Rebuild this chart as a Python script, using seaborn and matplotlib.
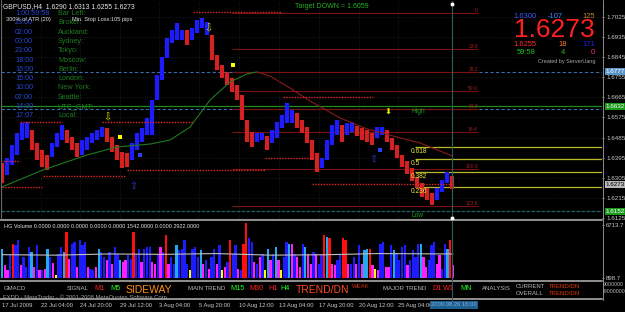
import matplotlib
matplotlib.use("Agg")
import matplotlib.pyplot as plt
import numpy as np
import seaborn as sns
from matplotlib.lines import Line2D
from matplotlib.transforms import blended_transform_factory

sns.set_style("dark")
plt.rcParams['font.family'] = ['Liberation Sans', 'DejaVu Sans']
plt.rcParams['axes.unicode_minus'] = False

W, H = 625, 312

# ---------------- data ----------------
header = "GBPUSD,H4  1.6290 1.6313 1.6255 1.6273"
bar_high = [1.6371, 1.6394, 1.6452, 1.6506, 1.6550, 1.6555, 1.6519, 1.6461, 1.6429, 1.6407,
            1.6461, 1.6506, 1.6541, 1.6519, 1.6488, 1.6461, 1.6474, 1.6488, 1.6506, 1.6519,
            1.6532, 1.6528, 1.6488, 1.6452, 1.6420, 1.6416, 1.6461, 1.6506, 1.6528, 1.6573,
            1.6653, 1.6765, 1.6846, 1.6931, 1.6967, 1.6998, 1.6967, 1.6967, 1.6976, 1.7012,
            1.7021, 1.7003, 1.6944, 1.6855, 1.6810, 1.6779, 1.6752, 1.6720, 1.6676, 1.6564,
            1.6510, 1.6506, 1.6506, 1.6492, 1.6519, 1.6555, 1.6586, 1.6640, 1.6609, 1.6595,
            1.6564, 1.6532, 1.6474, 1.6416, 1.6394, 1.6474, 1.6541, 1.6564, 1.6541, 1.6550,
            1.6555, 1.6537, 1.6528, 1.6519, 1.6506, 1.6532, 1.6532, 1.6519, 1.6483, 1.6452,
            1.6407, 1.6380, 1.6349, 1.6309, 1.6282, 1.6259, 1.6237, 1.6259, 1.6295, 1.6331,
            1.6313]
bar_low = [1.6282, 1.6317, 1.6362, 1.6407, 1.6474, 1.6483, 1.6429, 1.6385, 1.6353, 1.6340,
           1.6398, 1.6443, 1.6474, 1.6461, 1.6429, 1.6398, 1.6407, 1.6429, 1.6461, 1.6474,
           1.6488, 1.6465, 1.6420, 1.6385, 1.6349, 1.6353, 1.6385, 1.6429, 1.6465, 1.6497,
           1.6497, 1.6653, 1.6743, 1.6841, 1.6909, 1.6922, 1.6922, 1.6900, 1.6922, 1.6953,
           1.6976, 1.6944, 1.6832, 1.6788, 1.6752, 1.6720, 1.6689, 1.6653, 1.6564, 1.6465,
           1.6443, 1.6465, 1.6474, 1.6429, 1.6461, 1.6483, 1.6528, 1.6550, 1.6550, 1.6528,
           1.6506, 1.6461, 1.6385, 1.6331, 1.6349, 1.6385, 1.6452, 1.6497, 1.6465, 1.6497,
           1.6510, 1.6492, 1.6474, 1.6465, 1.6452, 1.6483, 1.6497, 1.6465, 1.6429, 1.6394,
           1.6353, 1.6322, 1.6291, 1.6259, 1.6219, 1.6205, 1.6183, 1.6205, 1.6241, 1.6282,
           1.6255]
bar_trend = ("r" "bbbbb" "rrrr" "bbb" "rrr" "bbbbb" "rrrrr" "bbbbbbbbbbb" "r" "bbbb"
             "rrrrrrrrr" "bb" "r" "bbbbb" "rrrrr" "bbbb" "r" "bb" "rrrr" "bb" "rrrrrrrrrr" "bbb" "r")

ma_up_idx = [0, 8.2, 17, 23, 25, 29.6, 33.6, 37.6, 41.6, 45.6, 49, 51]
ma_up_val = [1.6264, 1.6340, 1.6407, 1.6443, 1.6447, 1.6456, 1.6474, 1.6532, 1.6653, 1.6734, 1.6770, 1.6779]
ma_dn_idx = [51, 53.6, 57.6, 61.6, 67.6, 73, 78.2, 83.6, 90]
ma_dn_val = [1.6779, 1.6761, 1.6707, 1.6649, 1.6573, 1.6524, 1.6492, 1.6461, 1.6403]

sr_levels = [1.7047, 1.6555, 1.6555, 1.6380, 1.6313, 1.6264, 1.6340, 1.6394, 1.6667, 1.6277]
sr_start = [38.2, 3.6, 20, 0.2, 8.2, 0, 25, 52.6, 56.2, 62]
sr_end = [56, 12, 38.2, 3.6, 24.6, 8, 52.6, 62, 74.2, 90]

fib_labels = ["0", "23.6", "38.2", "50.0", "61.8", "76.4", "100.0", "123.6"]
fib_levels = [1.7043, 1.6882, 1.6779, 1.6694, 1.6613, 1.6510, 1.6344, 1.6179]

retr_labels = ["0.618", "0.5", "0.382", "0.236"]
retr_levels = [1.6443, 1.6389, 1.6331, 1.6264]

price_ticks = [1.7025, 1.6935, 1.6845, 1.6755, 1.6665, 1.6575, 1.6485, 1.6395, 1.6305, 1.6215, 1.6125]
price_boxes = [("1.6777", 1.6779, '#5b95c8', 'white'), ("1.6632", 1.6626, '#1a9a1a', 'white'),
               ("1.6273", 1.6273, '#b8b8b8', 'black'), ("1.6152", 1.6156, '#1a9a1a', 'white')]

arrow_dn_idx = [21, 41.2, 77.2]
arrow_dn_val = [1.6577, 1.6976, 1.6595]
arrow_up_idx = [26.2, 74.2]
arrow_up_val = [1.6268, 1.6389]
ysq_idx = [23.6, 46.2]
ysq_val = [1.6488, 1.6810]
bsq_idx = [27.6, 75.6]
bsq_val = [1.6407, 1.6429]

vol_values = [3741, 1591, 946, 2881, 4386, 4171, 4816, 1591, 2666, 1376,
              3956, 3311, 1376, 4171, 946, 946, 1161, 3741, 2666, 1892,
              301, 3096, 3956, 3311, 5891, 2451, 4386, 4601, 1376, 4816,
              4171, 4601, 1376, 1161, 946, 1376, 3741, 3311, 2666, 2236,
              3311, 1806, 3956, 3096, 2236, 2021, 2236, 2881, 2451, 5891,
              2881, 3741, 2021, 3741, 3956, 3956, 2021, 1806, 3096, 3956,
              3311, 5461, 1806, 2666, 1806, 4171, 3526, 3741, 4816, 1806,
              946, 3741, 3956, 2666, 3526, 1806, 2236, 1161, 2666, 3741,
              1806, 4171, 946, 1376, 2021, 4816, 3096, 4171, 1161, 946,
              4386, 6966, 5031, 4601, 2021, 1806, 2666, 3096, 946, 3741,
              2236, 3096, 3956, 2236, 946, 2666, 4601, 4386, 4386, 3096,
              2666, 1376, 4386, 3956, 3096, 1806, 3311, 3096, 1806, 2881,
              5461, 5246, 5031, 1806, 1591, 2236, 2881, 5031, 4816, 1806,
              1806, 2666, 1806, 4171, 1806, 3526, 3741, 3741, 1591, 1161,
              946, 4386, 4601, 1376, 1376, 4171, 3526, 3096, 2236, 3956,
              4171, 1591, 2236, 3526, 2666, 4386, 4386, 2666, 1376, 2236,
              4171, 4601, 1806, 2881, 1161, 4386, 3741, 4816, 1591]
vol_colors = ("cmmbrbbmbb" "bcmbmbmcbm" "ybbcrmbbmb" "bbmbbmcbbm" "bmbbcmmbbr" "bbmbbbmmbm"
              "brmbbcbbbb" "ybbbcmbmbb" "mbymbrbbmb" "rrbbmbmbyc" "mbcmybbcmb" "mmbcmmbmbb"
              "rcrmmbbrrm" "bbmbmccrmy" "mbbmmbcbbb" "bmbbbbcmmb" "bbmmbbcrm")
volma_idx = [0, 20, 40, 60, 80, 100, 120, 140, 168]
volma_val = [2960, 2900, 3050, 3000, 3100, 2900, 2950, 3100, 3050]

time_tick_idx = [0, 7.8, 15.6, 23.6, 31.4, 39.4, 47.4, 55.4, 63.4, 71.4, 79.2]
time_labels = ["17 Jul 2009", "22 Jul 04:00", "24 Jul 20:00", "29 Jul 12:00", "3 Aug 04:00",
               "5 Aug 20:00", "10 Aug 12:00", "13 Aug 04:00", "17 Aug 20:00", "20 Aug 12:00",
               "25 Aug 04:00"]

clock_times = ["1:00:59:58", "23:00", "02:00", "00:00", "23:00", "18:00", "16:00", "15:00",
               "10:00", "07:00", "14:00", "17:07"]
clock_names = ["Bar Left:", "Broker:", "Auckland:", "Sydney:", "Tokyo:", "Moscow:", "Berlin:",
               "London:", "New York:", "Seattle:", "UTC_GMT:", "Local:"]

# ---------------- figure ----------------
fig = plt.figure(figsize=(W / 100, H / 100), dpi=100, facecolor='black')


def axbox(x0, y0, x1, y1):
    a = fig.add_axes([x0 / W, 1 - y1 / H, (x1 - x0) / W, (y1 - y0) / H])
    a.set_facecolor('black')
    for s in a.spines.values():
        s.set_visible(False)
    return a


def T(x, y, s, c, fs, ha='left', va='center', **kw):
    fig.text(x / W, 1 - y / H, s, color=c, fontsize=fs, ha=ha, va=va, **kw)


# ----- main price panel -----
ax = axbox(1, 1, 602, 218.5)
ax.set_xlim(-0.2, 120)
ax.set_ylim(1.61227, 1.70966)
for t in time_tick_idx:
    ax.axvline(t, color='#2a2a2a', lw=0.5, ls=(0, (1, 2)), zorder=0)
for p in price_ticks:
    ax.axhline(p, color='#2a2a2a', lw=0.5, ls=(0, (1, 2)), zorder=0)

# full width lines
ax.axhline(1.6779, color='#3a6aa8', lw=0.8, ls=(0, (3, 2)), zorder=1)
ax.axhline(1.6613, color='#3a6aa8', lw=0.8, ls=(0, (3, 2)), zorder=1)
ax.axhline(1.6626, color='#1f8a1f', lw=0.9, zorder=1)
ax.axhline(1.6156, color='#1f6060', lw=0.9, ls=(0, (3, 1)), zorder=1)

# fib lines
ax.hlines(fib_levels, 46, 95.2, colors='#7a1212', lw=0.8, zorder=2)
for lab, lv in zip(fib_labels, fib_levels):
    ax.text(95.2, lv, lab, ha='right', va='bottom', color='#a02020', fontsize=3.6, zorder=6)

# retracement lines
ax.hlines(retr_levels, 82.6, 120, colors='#b8b828', lw=0.9, zorder=2)
for lab, lv in zip(retr_labels, retr_levels):
    ax.text(81.8, lv - 0.0004, lab, ha='left', va='top', color='#e8e840', fontsize=4.8, zorder=7)

# candles
cmap = {'b': '#1c1cff', 'r': '#d42222'}
idx = np.arange(len(bar_high))
ax.vlines(idx, bar_low, bar_high, colors=[cmap[c] for c in bar_trend], lw=3.0, zorder=3)

# moving average
sns.lineplot(x=ma_up_idx, y=ma_up_val, ax=ax, color='#1f7a1f', lw=0.8, zorder=4)
sns.lineplot(x=ma_dn_idx, y=ma_dn_val, ax=ax, color='#8a1a1a', lw=0.8, zorder=4)

# support / resistance dotted segments
ax.hlines(sr_levels, sr_start, sr_end, colors='#e02828', lw=1.0, linestyles=[(0, (1, 1))], zorder=5)

# markers
for i, v in zip(arrow_dn_idx[:2], arrow_dn_val[:2]):
    ax.text(i, v, '⇩', color='#e0e000', fontsize=7, ha='center', va='center', zorder=8)
ax.text(arrow_dn_idx[2], arrow_dn_val[2], '⬇', color='#f0f000', fontsize=6, ha='center', va='center', zorder=8)
for i, v in zip(arrow_up_idx, arrow_up_val):
    ax.text(i, v, '⇧', color='#2a40d0', fontsize=7, ha='center', va='center', zorder=8)
ax.scatter(ysq_idx, ysq_val, marker='s', s=5, color='#ffff00', zorder=8, linewidths=0)
ax.scatter(bsq_idx, bsq_val, marker='s', s=5, color='#2a40ff', zorder=8, linewidths=0)

ax.text(81.8, 1.6600, 'High', color='#1f9a1f', fontsize=4.8, ha='left', va='center', zorder=8)
ax.text(82.0, 1.6138, 'Low', color='#1f9a1f', fontsize=4.8, ha='left', va='center', zorder=8)

# right axis
ax.yaxis.tick_right()
ax.set_yticks(price_ticks)
ax.set_yticklabels([f"{p:.4f}" for p in price_ticks])
ax.tick_params(axis='y', colors='#c8c8c8', labelsize=4.5, length=1.5, width=0.5, pad=1.5)
ax.set_xticks([])
ax.set_xlabel('')
ax.set_ylabel('')
for lab, lv, bg, fc in price_boxes:
    ax.annotate(lab, xy=(1.0, lv), xycoords=('axes fraction', 'data'), xytext=(2.5, 0),
                textcoords='offset points', ha='left', va='center', fontsize=4.5, color=fc,
                bbox=dict(boxstyle='square,pad=0.15', fc=bg, ec='none'), zorder=10, annotation_clip=False)

# ----- volume panel -----
axv = axbox(1, 221, 602, 279.5)
N = len(vol_values)
sp = (453 - 2) / (N - 1)
vol_pal = {'b': '#1c1cff', 'c': '#22aaee', 'm': '#ff20ff', 'r': '#ff1010', 'y': '#ffff00'}
sns.barplot(x=np.arange(N), y=vol_values, hue=list(vol_colors), palette=vol_pal, dodge=False,
            native_scale=True, width=0.85, saturation=1, legend=False, errorbar=None,
            linewidth=0, ax=axv)
sns.lineplot(x=volma_idx, y=volma_val, color='#c0c0c0', lw=0.8, ax=axv)
axv.set_xlim(-1 / sp, 600 / sp)
axv.set_ylim(-215, 7267)
axv.yaxis.tick_right()
axv.set_yticks([6713.7, 0])
axv.set_yticklabels(["6713.7", "898.7"])
axv.tick_params(axis='y', colors='#c8c8c8', labelsize=4.3, length=1.5, width=0.5, pad=1.5)
axv.set_xticks([])
axv.set_xlabel('')
axv.set_ylabel('')

# ----- GMACD panel -----
axg = axbox(1, 282, 602, 297.5)
axg.set_xlim(-0.2, 120)
axg.set_ylim(0, 1)
axg.set_yticks([])
axg.set_xticks(time_tick_idx)
axg.set_xticklabels(time_labels)
axg.tick_params(axis='x', colors='#c8c8c8', labelsize=4.2, length=2.5, width=0.6, pad=1.5)
for lab in axg.get_xticklabels():
    lab.set_ha('left')

# current bar vertical line across panels
tr = blended_transform_factory(ax.transData, fig.transFigure)
fig.add_artist(Line2D([90, 90], [1 - 300 / H, 1 - 1 / H], transform=tr, color='#2f5c5c', lw=0.8, zorder=20))
fig.add_artist(Line2D([90, 90], [1 - 3.5 / H, 1 - 3.5 / H], transform=tr, color='white', marker='s',
                      ms=2, lw=0, zorder=21))
fig.add_artist(Line2D([90, 90], [1 - 218 / H, 1 - 218 / H], transform=tr, color='white', marker='s',
                      ms=2, lw=0, zorder=21))

# separators / frame
for yy, lw in [(219.5, 2.0), (280.8, 2.0), (298.8, 2.0)]:
    fig.add_artist(Line2D([0, 602 / W], [1 - yy / H, 1 - yy / H], transform=fig.transFigure,
                          color='#8c8c8c', lw=lw * 0.72))
fig.add_artist(Line2D([602.5 / W, 602.5 / W], [1 - 300 / H, 1], transform=fig.transFigure, color='#8c8c8c', lw=0.7))
fig.add_artist(Line2D([1.5 / W, 1.5 / W], [1 - 219 / H, 1], transform=fig.transFigure, color='#6c6c6c', lw=0.7))

# ----- texts -----
T(3, 7, header, '#e8e8e8', 4.9)
T(6, 19, "300% of ATR (20)", '#e0e0e0', 4.1)
T(72, 19, "Min. Stop Loss:", '#e0e0e0', 4.1)
T(111, 19, "105 pips", '#e0e0e0', 4.1)
for k, (tm, nm) in enumerate(zip(clock_times, clock_names)):
    yy = 13.5 + 9.3 * k
    T(15, yy, tm, '#2846d2', 5.2, zorder=1)
    T(58, yy, nm, '#1e7a1e', 5.2, zorder=1)

T(332, 7, "Target DOWN = 1.6059", '#22b022', 5.0, ha='center')

T(513, 16, "1.6300", '#3a5aff', 5.4)
T(548, 16, "-107", '#3a90ff', 5.4)
T(582, 16, "125", '#c08a30', 5.4)
T(554, 30, "1.6273", '#ff2020', 19, ha='center')
T(513, 44, "1.6255", '#ff2a2a', 5.4)
T(558, 44, "18", '#ff7a30', 5.4)
T(582, 44, "171", '#2020ff', 5.4)
T(517, 52, "59:58", '#22c022', 5.4)
T(561, 52, "4", '#22c022', 5.4)
T(591, 52, "0", '#ff2090', 5.4)
T(538, 61, "Created by ServerUang", '#a8a8a8', 4.0)

T(4, 226, "HG Volume 0.0000 0.0000 0.0000 0.0000 0.0000 1542.0000 0.0000 2922.0000", '#e0e0e0', 4.0)

grey = '#b8b8b8'
red = '#ff2020'
lime = '#20ff20'
T(4, 288, "GMACD", grey, 4.3)
T(67, 288, "SIGNAL", grey, 4.3)
T(94, 289, "M1", red, 5.2)
T(110, 289, "M5", lime, 5.2)
T(126, 290, "SIDEWAY", '#ff9010', 7.5)
T(188, 288, "MAIN TREND", grey, 4.3)
T(230, 289, "M15", lime, 5.2)
T(249, 289, "M30", red, 5.2)
T(268, 289, "H1", red, 5.2)
T(280, 289, "H4", lime, 5.2)
T(296, 290, "TREND/DN", '#ff4a20', 7.5)
T(352, 287, "WEAK", '#d03010', 4.3)
T(383, 288, "MAJOR TREND", grey, 4.3)
T(432, 289, "D1", red, 5.2)
T(443, 289, "W1", red, 5.2)
T(460, 289, "MN", lime, 5.2)
T(482, 288, "ANALYSIS", grey, 4.3)
T(516, 287, "CURRENT", grey, 4.3)
T(516, 293.5, "OVERALL", grey, 4.3)
T(549, 287, "TREND/DN", '#e03a10', 4.3)
T(549, 293.5, "TREND/DN", '#e03a10', 4.3)
T(603, 285, "9000000", grey, 3.8)
T(603, 291.5, "-9000000", grey, 3.8)
T(3, 297, "FXDD - MetaTrader - © 2001-2008 MetaQuotes Software Corp.", '#a0a0a0', 4.2)

fig.text(431 / W, 1 - 305 / H, "2009.08.26 16:00", color='#7ab0e0', fontsize=4.2, ha='left', va='center',
         bbox=dict(boxstyle='square,pad=0.2', fc='#1f5f8f', ec='none'))

fig.savefig("out.png", dpi=100, facecolor='black')
